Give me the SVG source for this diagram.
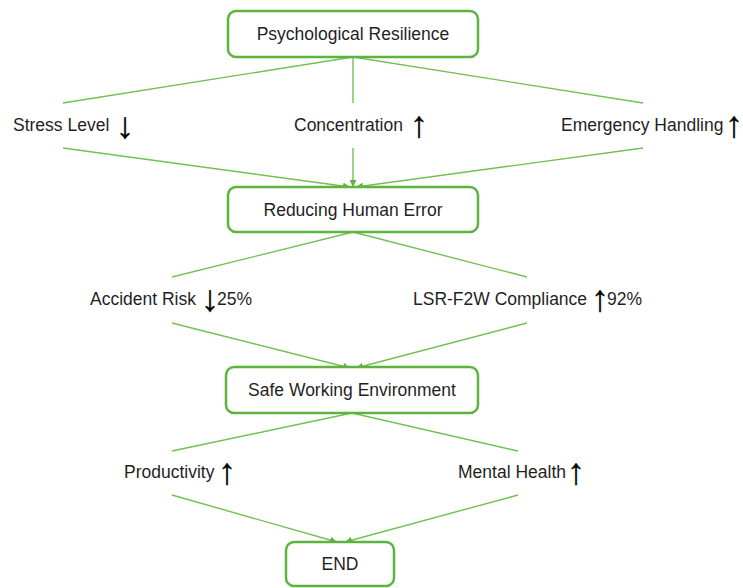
<svg xmlns="http://www.w3.org/2000/svg" width="743" height="588" viewBox="0 0 743 588">
  <style>
    .box { fill: #ffffff; stroke: #5cb43e; stroke-width: 2.5; }
    .lbl { font-family: "Liberation Sans", Arial, sans-serif; font-size: 17.5px; fill: #1f1f1f; }
    .mid { text-anchor: middle; }
    .arw { font-family: "Liberation Sans", Arial, sans-serif; font-size: 37px; fill: #000000; stroke: #000000; stroke-width: 0.3; text-anchor: middle; }
    .edge { fill: none; stroke: #72c052; stroke-width: 1.4; }
  </style>
  <defs>
    <marker id="tip" viewBox="0 0 10 10" refX="10" refY="5" markerWidth="7" markerHeight="7" markerUnits="userSpaceOnUse" orient="auto">
      <path d="M0,0 L10,5 L0,10 Z" fill="#5cb43e"/>
    </marker>
  </defs>
  <rect width="743" height="588" fill="#ffffff"/>

  <!-- connectors -->
  <g id="connectors">
    <path class="edge" d="M353,57 L63,103"/>
    <path class="edge" d="M353,57 L353,103"/>
    <path class="edge" d="M353,57 L643,103"/>
    <path class="edge" d="M63,148 L350,187" marker-end="url(#tip)"/>
    <path class="edge" d="M353,148 L353,187" marker-end="url(#tip)"/>
    <path class="edge" d="M643,148 L356,187" marker-end="url(#tip)"/>

    <path class="edge" d="M353,232 L172,277"/>
    <path class="edge" d="M353,232 L527,277"/>
    <path class="edge" d="M172,323 L350,368" marker-end="url(#tip)"/>
    <path class="edge" d="M527,323 L356,368" marker-end="url(#tip)"/>

    <path class="edge" d="M352,413 L172,451"/>
    <path class="edge" d="M352,413 L518,451"/>
    <path class="edge" d="M172,495 L337,542" marker-end="url(#tip)"/>
    <path class="edge" d="M518,495 L345,542" marker-end="url(#tip)"/>
  </g>

  <!-- boxed nodes -->
  <g id="psychological-resilience">
    <rect class="box" x="228" y="11" width="250" height="46" rx="8"/>
    <text class="lbl mid" x="353" y="40">Psychological Resilience</text>
  </g>
  <g id="reducing-human-error">
    <rect class="box" x="228" y="187" width="250" height="45" rx="8"/>
    <text class="lbl mid" x="353" y="216">Reducing Human Error</text>
  </g>
  <g id="safe-working-environment">
    <rect class="box" x="226" y="367" width="252" height="46" rx="8"/>
    <text class="lbl mid" x="352" y="396">Safe Working Environment</text>
  </g>
  <g id="end">
    <rect class="box" x="286" y="542" width="108" height="44" rx="8"/>
    <text class="lbl mid" x="340" y="570">END</text>
  </g>

  <!-- factor labels with trend arrows -->
  <g id="stress-level">
    <text class="lbl" x="13" y="131">Stress Level</text>
    <text class="arw" x="125" y="138">↓</text>
  </g>
  <g id="concentration">
    <text class="lbl" x="294" y="131">Concentration</text>
    <text class="arw" x="419" y="137">↑</text>
  </g>
  <g id="emergency-handling">
    <text class="lbl" x="561" y="131">Emergency Handling</text>
    <text class="arw" x="734" y="137">↑</text>
  </g>
  <g id="accident-risk">
    <text class="lbl" x="90" y="305">Accident Risk</text>
    <text class="arw" x="210" y="311">↓</text>
    <text class="lbl" x="217" y="305">25%</text>
  </g>
  <g id="lsr-f2w-compliance">
    <text class="lbl" x="413" y="305">LSR-F2W Compliance</text>
    <text class="arw" x="600" y="311">↑</text>
    <text class="lbl" x="607" y="305">92%</text>
  </g>
  <g id="productivity">
    <text class="lbl" x="124" y="478">Productivity</text>
    <text class="arw" x="227" y="484">↑</text>
  </g>
  <g id="mental-health">
    <text class="lbl" x="458" y="478">Mental Health</text>
    <text class="arw" x="576" y="484">↑</text>
  </g>
</svg>
